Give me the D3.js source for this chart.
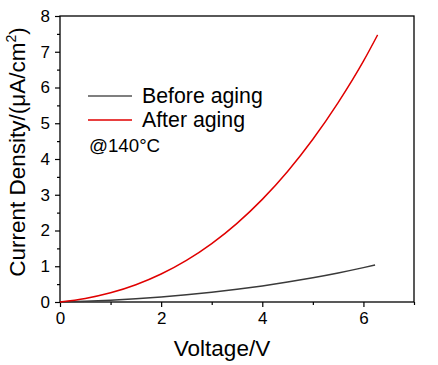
<!DOCTYPE html>
<html><head><meta charset="utf-8">
<script src="https://cdn.jsdelivr.net/npm/d3@7"></script>
<style>body{margin:0;background:#fff}svg{display:block}text{font-family:"Liberation Sans",Arial,sans-serif;fill:#000}</style>
</head><body>
<script>
const voltageBefore = [0,0.5,1,1.5,2,2.5,3,3.5,4,4.5,5,5.5,6,6.23];
const currentBefore = [0,0.021,0.051,0.09,0.14,0.2,0.272,0.355,0.45,0.558,0.679,0.813,0.962,1.035];
const voltageAfter = [0,0.5,1,1.5,2,2.5,3,3.5,4,4.5,5,5.5,6,6.28];
const currentAfter = [0,0.099,0.257,0.483,0.783,1.164,1.634,2.201,2.871,3.652,4.552,5.577,6.736,7.47];
const xTicks = [0,2,4,6];
const yTicks = [0,1,2,3,4,5,6,7,8];
const seriesNames = ["Before aging","After aging"];
const note = "@140°C";

const W=438,H=365;
const m={l:60,t:16,r:24,b:63};
const svg=d3.select("body").append("svg").attr("width",W).attr("height",H);
const x=d3.scaleLinear().domain([0,7]).range([m.l,W-m.r]);
const y=d3.scaleLinear().domain([0,8]).range([H-m.b,m.t]);

// frame
svg.append("rect").attr("x",m.l).attr("y",m.t).attr("width",W-m.r-m.l).attr("height",H-m.b-m.t)
 .attr("fill","none").attr("stroke","#000").attr("stroke-width",1.3);

const gx=svg.append("g").attr("transform",`translate(0,${H-m.b})`);
gx.call(d3.axisBottom(x).tickValues(d3.range(1,8,2)).tickSize(3).tickFormat(""));
gx.select(".domain").remove();
const gx2=svg.append("g").attr("transform",`translate(0,${H-m.b})`)
 .call(d3.axisBottom(x).tickValues(xTicks).tickSize(5).tickPadding(5).tickFormat(d3.format("d")));
gx2.select(".domain").remove();
gx2.selectAll("text").attr("font-size",17).attr("font-family","Liberation Sans, Arial, sans-serif");

const gy=svg.append("g").attr("transform",`translate(${m.l},0)`);
gy.call(d3.axisLeft(y).tickValues(d3.range(0.5,8,1)).tickSize(3).tickFormat(""));
gy.select(".domain").remove();
const gy2=svg.append("g").attr("transform",`translate(${m.l},0)`)
 .call(d3.axisLeft(y).tickValues(yTicks).tickSize(5).tickPadding(5).tickFormat(d3.format("d")));
gy2.select(".domain").remove();
gy2.selectAll("text").attr("font-size",17).attr("font-family","Liberation Sans, Arial, sans-serif");
svg.selectAll(".tick line").attr("stroke","#000").attr("stroke-width",1.2);

const line=d3.line().x(d=>x(d[0])).y(d=>y(d[1])).curve(d3.curveMonotoneX);
svg.append("path").datum(voltageBefore.map((v,i)=>[v,currentBefore[i]]))
 .attr("d",line).attr("fill","none").attr("stroke","#3a3a3a").attr("stroke-width",1.5);
svg.append("path").datum(voltageAfter.map((v,i)=>[v,currentAfter[i]]))
 .attr("d",line).attr("fill","none").attr("stroke","#e00000").attr("stroke-width",1.5);

// legend
const leg=[{c:"#555",y:96},{c:"#e00000",y:120}];
leg.forEach((l,i)=>{
  svg.append("line").attr("x1",88).attr("x2",132).attr("y1",l.y).attr("y2",l.y).attr("stroke",l.c).attr("stroke-width",1.5);
  svg.append("text").attr("x",142).attr("y",l.y+7).attr("font-size",21.3).text(seriesNames[i]);
});
svg.append("text").attr("x",89).attr("y",151.5).attr("font-size",18.7).text(note);

// axis labels
svg.append("text").attr("x",(m.l+W-m.r)/2-15).attr("y",356).attr("text-anchor","middle").attr("font-size",22.5).text("Voltage/V");
const yl=svg.append("text").attr("transform",`translate(25,152) rotate(-90)`).attr("text-anchor","middle").attr("font-size",22.5);
yl.append("tspan").text("Current Density/(μA/cm");
yl.append("tspan").attr("font-size",14).attr("dy",-9).text("2");
yl.append("tspan").attr("dy",9).text(")");
</script>
</body></html>
